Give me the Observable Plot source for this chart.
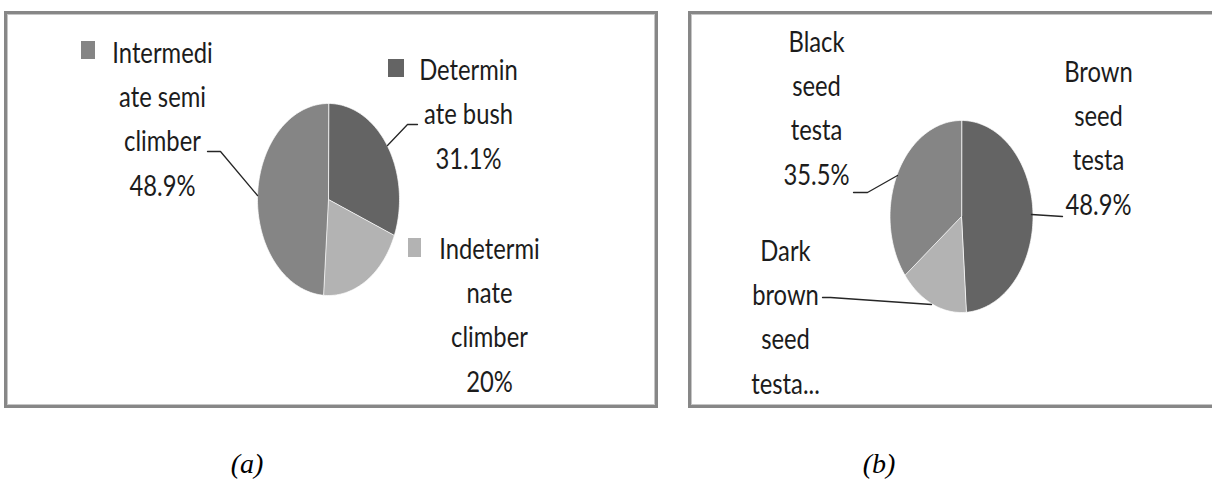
<!DOCTYPE html>
<html><head><meta charset="utf-8">
<script src="https://cdn.jsdelivr.net/npm/d3@7"></script>
<script src="https://cdn.jsdelivr.net/npm/@observablehq/plot@0.6"></script>
<style>
html,body{margin:0;padding:0;background:#fff;}
body{width:1212px;height:485px;overflow:hidden;position:relative;}
.box{position:absolute;box-sizing:border-box;border:3px solid #878787;box-shadow:inset 0 0 0 1px #c6c6c6;}
.panel{position:absolute;top:0;}
.cap{position:absolute;font-family:"Liberation Serif","Times New Roman",serif;font-style:italic;font-size:28px;line-height:1;transform:translateX(-50%);color:#000;}
</style></head><body>
<div class="box" style="left:4px;top:11px;width:654px;height:397px"></div>
<div class="box" style="left:688px;top:11px;width:600px;height:397px"></div>
<div id="pa" class="panel" style="left:0px"></div>
<div id="pb" class="panel" style="left:686px"></div>
<div class="cap" style="left:247px;top:450px">(a)</div>
<div class="cap" style="left:879px;top:450px">(b)</div>
<script>
// ---- data ----
const habitCategories = ["Determinate bush", "Indeterminate climber", "Intermediate semi climber"];
const habitPercent = [31.1, 20, 48.9];
const habitLabels = ["Determin\nate bush\n31.1%", "Indetermi\nnate\nclimber\n20%", "Intermedi\nate semi\nclimber\n48.9%"];
const testaCategories = ["Brown seed testa", "Dark brown seed testa", "Black seed testa"];
const testaPercent = [48.9, 15.6, 35.5];
const testaLabels = ["Brown\nseed\ntesta\n48.9%", "Dark\nbrown\nseed\ntesta...", "Black\nseed\ntesta\n35.5%"];
const sliceColors = ["#646464", "#b3b3b3", "#858585"];

// ---- layout (page pixel positions of annotations) ----
const layoutA = {
  left: 0, W: 660, H: 420, cx: 328, cy: 199, rx: 71, ry: 96,
  labels: [
    {tx: 468, ty: 168, key: [388, 404, 59, 77], leader: [[387,145],[407,124],[417,124]]},
    {tx: 489, ty: 391, key: [408, 421, 238, 257], leader: null},
    {tx: 162, ty: 195, key: [81, 95, 41, 59], leader: [[207,151],[220,151],[257,195]]}
  ]
};
const layoutB = {
  left: 686, W: 526, H: 420, cx: 961, cy: 216, rx: 71.5, ry: 96,
  labels: [
    {tx: 1098, ty: 214, key: null, leader: [[1031,214],[1062,216]]},
    {tx: 785, ty: 393, key: null, leader: [[822,297],[830,297],[931,304]]},
    {tx: 816, ty: 184, key: null, leader: [[853,192],[867,192],[897,175]]}
  ]
};

const FONT = 'Lato,"Open Sans",sans-serif';
const TEXT_SQUEEZE = 0.85;

function piePanel(el, L, cats, vals, labels) {
  const ux = px => (px - L.cx) / L.rx;
  const uy = py => (L.cy - py) / L.ry;
  const rows = cats.map((name, i) => ({name, value: vals[i], color: sliceColors[i], label: labels[i], lay: L.labels[i]}));
  const arcs = d3.pie().sort(null).value(d => d.value)(rows);
  const marks = [];
  for (const a of arcs) {
    const pts = [{x: 0, y: 0}];
    const steps = Math.max(2, Math.ceil((a.endAngle - a.startAngle) / (2 * Math.PI) * 240));
    for (let k = 0; k <= steps; ++k) {
      const t = a.startAngle + (a.endAngle - a.startAngle) * k / steps;
      pts.push({x: Math.sin(t), y: Math.cos(t)});
    }
    marks.push(Plot.line(pts, {x: "x", y: "y", fill: a.data.color, stroke: "#ffffff", strokeWidth: 1, strokeOpacity: 0.7, curve: "linear-closed"}));
  }
  const leaders = [];
  rows.forEach(r => { if (r.lay.leader) r.lay.leader.forEach(p => leaders.push({name: r.name, x: ux(p[0]), y: uy(p[1])})); });
  marks.push(Plot.line(leaders, {x: "x", y: "y", z: "name", stroke: "#262626", strokeWidth: 1.3}));
  const keys = rows.filter(r => r.lay.key).map(r => ({color: r.color, x1: ux(r.lay.key[0]), x2: ux(r.lay.key[1]), y1: uy(r.lay.key[3]), y2: uy(r.lay.key[2])}));
  marks.push(Plot.rect(keys, {x1: "x1", x2: "x2", y1: "y1", y2: "y2", fill: d => d.color}));
  const texts = rows.map(r => ({text: r.label, x: ux(r.lay.tx), y: uy(r.lay.ty)}));
  marks.push(Plot.text(texts, {x: "x", y: "y", text: "text", fontSize: 28, lineHeight: 1.575, lineAnchor: "bottom", textAnchor: "middle", fontFamily: FONT, fill: "#1c1c1c"}));
  const W = L.W, H = L.H;
  const svg = Plot.plot({
    width: W, height: H, margin: 0,
    x: {domain: [ux(L.left), ux(L.left + W)], axis: null},
    y: {domain: [uy(H), uy(0)], axis: null},
    style: {background: "transparent", overflow: "visible"},
    marks
  });
  // condense label glyphs horizontally (chart text is narrow)
  svg.querySelectorAll('g[aria-label="text"] text').forEach(t => {
    t.setAttribute("transform", (t.getAttribute("transform") || "") + ` scale(${TEXT_SQUEEZE},1)`);
  });
  el.appendChild(svg);
}

piePanel(document.getElementById("pa"), layoutA, habitCategories, habitPercent, habitLabels);
piePanel(document.getElementById("pb"), layoutB, testaCategories, testaPercent, testaLabels);
</script>
</body></html>
